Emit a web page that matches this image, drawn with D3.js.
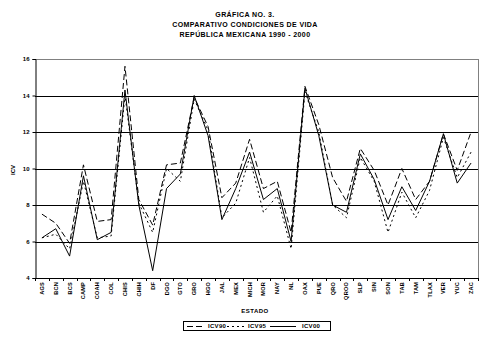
<!DOCTYPE html>
<html><head><meta charset="utf-8">
<script src="https://cdn.jsdelivr.net/npm/d3@7"></script>
<style>
body{margin:0;background:#fff;}
svg{display:block;font-family:"Liberation Sans",Arial,sans-serif;}
</style></head>
<body>
<svg id="chart" width="489" height="338"></svg>
<script>
const titleLines = ["GRÁFICA NO. 3.", "COMPARATIVO CONDICIONES DE VIDA", "REPÚBLICA MEXICANA 1990 - 2000"];
const categories = ["AGS","BCN","BCS","CAMP","COAH","COL","CHIS","CHIH","DF","DGO","GTO","GRO","HGO","JAL","MEX","MICH","MOR","NAY","NL","OAX","PUE","QRO","QROO","SLP","SIN","SON","TAB","TAM","TLAX","VER","YUC","ZAC"];
const icv90 = [7.5,7.0,5.9,10.2,7.1,7.2,15.6,8.3,6.9,10.2,10.3,13.9,12.3,8.4,9.2,11.6,8.9,9.3,6.5,14.5,12.4,9.5,8.2,11.1,9.9,8.0,10.0,8.3,9.3,11.9,9.9,12.0];
const icv95 = [6.2,6.4,5.6,9.3,6.2,6.3,14.0,8.1,6.5,10.0,9.3,13.8,12.1,7.3,8.1,10.6,7.6,8.5,5.6,14.2,12.0,8.0,7.3,10.6,9.3,6.5,8.7,7.3,8.8,11.7,9.5,10.9];
const icv00 = [6.2,6.7,5.2,9.6,6.1,6.5,14.3,8.0,4.4,8.9,9.7,14.0,11.8,7.2,8.9,10.9,8.3,8.9,6.0,14.4,11.8,8.0,7.6,10.8,9.4,7.2,9.0,7.7,9.3,11.9,9.2,10.3];
const yTicks = [4,6,8,10,12,14,16];
const seriesNames = ["ICV90","ICV95","ICV00"];
const yLabel = "ICV", xLabel = "ESTADO";

const series = [
  {name: seriesNames[0], values: icv90, dash: "6,3"},
  {name: seriesNames[1], values: icv95, dash: "2,3"},
  {name: seriesNames[2], values: icv00, dash: null}
];

const svg = d3.select("#chart");
const L = 35, R = 478, T = 59, B = 278;
const x = d3.scaleBand().domain(categories).range([L, R]).padding(0);
const y = d3.scaleLinear().domain([4,16]).range([B, T]);
const cx = c => x(c) + x.bandwidth()/2;

// titles
svg.append("g").selectAll("text").data(titleLines).join("text")
  .attr("x", 245).attr("y", (d,i) => 16.5 + i*10)
  .attr("text-anchor","middle").attr("font-size", 7).attr("font-weight","bold")
  .attr("letter-spacing", 0.4)
  .text(d => d);

// plot frame top/right gray
svg.append("line").attr("x1",L).attr("x2",R).attr("y1",T+0.5).attr("y2",T+0.5).attr("stroke","#808080");
svg.append("line").attr("x1",R+0.5).attr("x2",R+0.5).attr("y1",T).attr("y2",B).attr("stroke","#808080");

// gridlines
svg.append("g").selectAll("line").data(yTicks.filter(v => v>4 && v<16)).join("line")
  .attr("x1",L).attr("x2",R).attr("y1",d=>Math.round(y(d))+0.5).attr("y2",d=>Math.round(y(d))+0.5)
  .attr("stroke","#000").attr("stroke-width",1);

// y axis
const yAxis = d3.axisLeft(y).tickValues(yTicks).tickSize(3).tickPadding(3);
const gy = svg.append("g").attr("transform",`translate(${L+0.5},0)`).call(yAxis);
gy.select(".domain").attr("stroke","#000");
gy.selectAll("text").attr("font-size",6).attr("font-weight","bold").attr("font-family","Liberation Sans, Arial, sans-serif");

// x axis (ticks at band boundaries)
svg.append("line").attr("x1",L).attr("x2",R).attr("y1",B+0.5).attr("y2",B+0.5).attr("stroke","#000");
const bounds = categories.map(c => x(c)).concat([R]);
svg.append("g").selectAll("line").data(bounds).join("line")
  .attr("x1",d=>Math.round(d)+0.5).attr("x2",d=>Math.round(d)+0.5).attr("y1",B).attr("y2",B+3)
  .attr("stroke","#000");
svg.append("g").selectAll("text").data(categories).join("text")
  .attr("transform", d => `translate(${cx(d)+2},${B+4}) rotate(-90)`)
  .attr("text-anchor","end").attr("font-size",5.6).attr("font-weight","bold")
  .attr("letter-spacing",0.2)
  .text(d => d);

// axis titles
svg.append("text").attr("transform","translate(15,170) rotate(-90)").attr("text-anchor","middle")
  .attr("font-size",6).attr("font-weight","bold").text(yLabel);
svg.append("text").attr("x",255).attr("y",313).attr("text-anchor","middle")
  .attr("font-size",6).attr("font-weight","bold").attr("letter-spacing",0.5).text(xLabel);

// lines
const line = d3.line().x((d,i) => cx(categories[i])).y(d => y(d));
svg.append("g").selectAll("path").data(series).join("path")
  .attr("d", s => line(s.values))
  .attr("fill","none").attr("stroke","#000").attr("stroke-width",1)
  .attr("stroke-dasharray", s => s.dash);

// legend
const lg = svg.append("g");
lg.append("rect").attr("x",183.5).attr("y",321.5).attr("width",147).attr("height",9)
  .attr("fill","#fff").attr("stroke","#000");
const legX = [187, 227, 270];
const items = lg.selectAll("g").data(series).join("g")
  .attr("transform",(d,i)=>`translate(${legX[i]},326)`);
items.append("line").attr("x1",0).attr("x2",(d,i)=> i===2 ? 26 : 17).attr("y1",0.5).attr("y2",0.5)
  .attr("stroke","#000").attr("stroke-dasharray",d=>d.dash);
items.append("text").attr("x",(d,i)=> i===2 ? 32 : 21).attr("y",2.2).attr("font-size",6).attr("font-weight","bold")
  .attr("letter-spacing",0.3)
  .text(d=>d.name);
</script>
</body></html>
